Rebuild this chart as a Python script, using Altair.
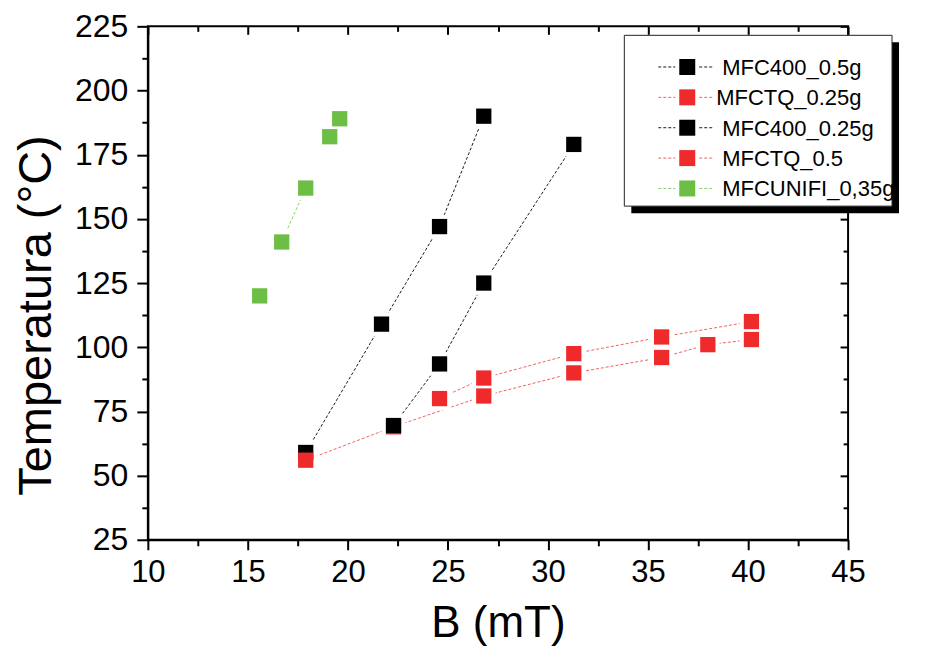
import altair as alt
import pandas as pd

# ---------------- data ----------------
series_names = ["MFC400_0.5g", "MFCTQ_0.25g", "MFC400_0.25g", "MFCTQ_0.5", "MFCUNIFI_0,35g"]
point_colors = ["#000000", "#EE2A2A", "#000000", "#EE2A2A", "#6DBE45"]
line_colors = ["#1a1a1a", "#F26060", "#1a1a1a", "#F26060", "#8FCC6E"]

mfc400_05_B = [17.89, 21.68, 24.58, 26.79]
mfc400_05_T = [59, 109, 147, 190]

mfctq_025_B = [17.89, 22.28, 26.79, 31.29, 35.68, 37.99, 40.17]
mfctq_025_T = [56, 69, 81, 90, 96, 101, 103]

mfc400_025_B = [22.28, 24.58, 26.79, 31.29]
mfc400_025_T = [69.5, 93.5, 125, 179]

mfctq_05_B = [24.58, 26.79, 31.29, 35.68, 40.17]
mfctq_05_T = [80, 88, 97.5, 104, 110]

unifi_B = [15.59, 16.69, 17.89, 19.09, 19.59]
unifi_T = [120, 141, 162, 182, 189]
unifi_connected = [False, True, True, False, False]

x_major = [10, 15, 20, 25, 30, 35, 40, 45]
x_minor = [12.5, 17.5, 22.5, 27.5, 32.5, 37.5, 42.5]
y_major = [25, 50, 75, 100, 125, 150, 175, 200, 225]
y_minor = [37.5, 62.5, 87.5, 112.5, 137.5, 162.5, 187.5, 212.5]

# ---------------- table ----------------
series_data = [
    (series_names[0], mfc400_05_B, mfc400_05_T, [True] * len(mfc400_05_B)),
    (series_names[1], mfctq_025_B, mfctq_025_T, [True] * len(mfctq_025_B)),
    (series_names[2], mfc400_025_B, mfc400_025_T, [True] * len(mfc400_025_B)),
    (series_names[3], mfctq_05_B, mfctq_05_T, [True] * len(mfctq_05_B)),
    (series_names[4], unifi_B, unifi_T, unifi_connected),
]
rows = []
for name, xs, ys, conn in series_data:
    for xv, yv, c in zip(xs, ys, conn):
        rows.append({"series": name, "B": xv, "T": yv, "T_line": yv if c else None})
df = pd.DataFrame(rows)

W, H = 701, 514
FONT = "Liberation Sans"

xscale = alt.Scale(domain=[10, 45], nice=False, zero=False)
yscale = alt.Scale(domain=[25, 225], nice=False, zero=False)

base = alt.Chart(df)

main_x_axis = alt.Axis(
    orient="bottom", values=x_major, format="d", grid=False,
    tickSize=10, tickWidth=2, tickColor="black",
    domainColor="black", domainWidth=2,
    labelFont=FONT, labelFontSize=31, labelColor="black", labelPadding=8,
    labelFlush=False, labelOverlap=False,
    title="B (mT)", titleFont=FONT, titleFontSize=44, titleFontWeight="normal",
    titleColor="black", titlePadding=14,
)
main_y_axis = alt.Axis(
    orient="left", values=y_major, format="d", grid=False,
    tickSize=11, tickWidth=2, tickColor="black",
    domainColor="black", domainWidth=2,
    labelFont=FONT, labelFontSize=32, labelColor="black", labelPadding=9,
    labelFlush=False, labelOverlap=False,
    title="Temperatura (°C)", titleFont=FONT, titleFontSize=47, titleFontWeight="normal",
    titleColor="black", titleX=-97, titleY=289, titleBaseline="alphabetic",
    titleAlign="center", titleAngle=270,
)


def tick_axis(orient, values, size, offset=0):
    kw = dict(orient=orient, values=values, grid=False, domain=False, labels=False,
              tickSize=size, tickWidth=2, tickColor="black", title="")
    if offset:
        kw["offset"] = offset
    return alt.Axis(**kw)


lines = base.mark_line(strokeDash=[3, 2], strokeWidth=1).encode(
    x=alt.X("B:Q", scale=xscale, axis=None),
    y=alt.Y("T_line:Q", scale=yscale, axis=None),
    detail="series:N",
    stroke=alt.Stroke("series:N", scale=alt.Scale(domain=series_names, range=line_colors), legend=None),
)

halo = base.mark_square(size=560, color="white", opacity=1).encode(
    x=alt.X("B:Q", scale=xscale, axis=None),
    y=alt.Y("T:Q", scale=yscale, axis=None),
)

points = base.mark_square(size=234, opacity=1).encode(
    x=alt.X("B:Q", scale=xscale, axis=main_x_axis),
    y=alt.Y("T:Q", scale=yscale, axis=main_y_axis),
    color=alt.Color("series:N", scale=alt.Scale(domain=series_names, range=point_colors), legend=None),
)

minor_out = base.mark_point(opacity=0).encode(
    x=alt.X("B:Q", scale=xscale, axis=tick_axis("bottom", x_minor, 6)),
    y=alt.Y("T:Q", scale=yscale, axis=tick_axis("left", y_minor, 6)),
)
major_in = base.mark_point(opacity=0).encode(
    x=alt.X("B:Q", scale=xscale, axis=tick_axis("bottom", x_major, 8, -H)),
    y=alt.Y("T:Q", scale=yscale, axis=tick_axis("left", y_major, 8, -W)),
)
minor_in = base.mark_point(opacity=0).encode(
    x=alt.X("B:Q", scale=xscale, axis=tick_axis("bottom", x_minor, 5, -H)),
    y=alt.Y("T:Q", scale=yscale, axis=tick_axis("left", y_minor, 5, -W)),
)

# ---------------- legend box (Origin style, drawn as guide decoration) ----------------
one = alt.Chart(pd.DataFrame({"k": [0]}))
legend_layers = [
    one.mark_rect(color="black").encode(
        x=alt.value(484), x2=alt.value(752), y=alt.value(16), y2=alt.value(187)),
    one.mark_rect(fill="white", stroke="#222222", strokeWidth=1).encode(
        x=alt.value(477), x2=alt.value(745), y=alt.value(9), y2=alt.value(180)),
]
row_y = [40.7, 71.1, 101.5, 131.9, 162.3]
label_x = [575, 569, 575, 575, 575]
for i, name in enumerate(series_names):
    ry = row_y[i]
    for xa, xb in [(511, 528), (552, 567)]:
        legend_layers.append(
            one.mark_rule(strokeDash=[3, 2], strokeWidth=1, color=line_colors[i]).encode(
                x=alt.value(xa), x2=alt.value(xb), y=alt.value(ry)))
    legend_layers.append(
        one.mark_square(size=256, opacity=1, color=point_colors[i]).encode(
            x=alt.value(540), y=alt.value(ry)))
    legend_layers.append(
        one.mark_text(text=name, align="left", baseline="middle", font=FONT,
                      fontSize=22, color="black").encode(
            x=alt.value(label_x[i]), y=alt.value(ry + 1)))

chart = (
    alt.layer(lines, halo, points, minor_out, major_in, minor_in, *legend_layers)
    .resolve_axis(x="independent", y="independent")
    .properties(
        width=W, height=H,
        autosize=alt.AutoSizeParams(type="none"),
        padding={"left": 140, "top": 18, "right": 75, "bottom": 110},
        background="white",
    )
    .configure_view(stroke="black", strokeWidth=2)
)

chart.save("out.html", embed_options={"renderer": "svg", "actions": False})
